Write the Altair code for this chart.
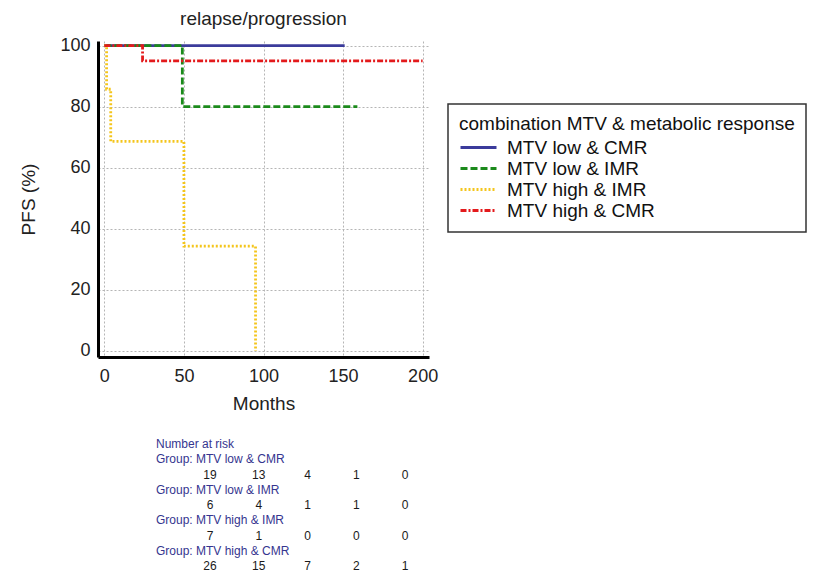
import altair as alt
import pandas as pd

# ---- data ----
groups = ["MTV low & CMR", "MTV low & IMR", "MTV high & IMR", "MTV high & CMR"]
colors = ["#3b3b9b", "#1b8a1b", "#f4c51c", "#e31a1c"]
dashes = [[1, 0], [7, 3], [2, 2], [6, 2, 2, 2]]

t_low_cmr = [0, 151]
s_low_cmr = [100, 100]
t_low_imr = [0, 49, 159]
s_low_imr = [100, 80, 80]
t_high_imr = [0, 1.4, 4, 50, 95]
s_high_imr = [100, 85.7, 68.6, 34.3, 0]
t_high_cmr = [0, 24, 200]
s_high_cmr = [100, 95, 95]

risk_times = [0, 50, 100, 150, 200]
risk_low_cmr = [19, 13, 4, 1, 0]
risk_low_imr = [6, 4, 1, 1, 0]
risk_high_imr = [7, 1, 0, 0, 0]
risk_high_cmr = [26, 15, 7, 2, 1]

series = [
    (groups[0], t_low_cmr, s_low_cmr),
    (groups[1], t_low_imr, s_low_imr),
    (groups[2], t_high_imr, s_high_imr),
    (groups[3], t_high_cmr, s_high_cmr),
]
rows = []
for order, (g, ts, ss) in enumerate(series):
    for t, s in zip(ts, ss):
        rows.append({"group": g, "Months": t, "PFS": s, "order": order})
km = pd.DataFrame(rows)

# risk table
risk = [risk_low_cmr, risk_low_imr, risk_high_imr, risk_high_cmr]
num_rows, lab_rows = [], [{"text": "Number at risk", "row": 0}]
for i, g in enumerate(groups):
    lab_rows.append({"text": "Group: " + g, "row": 1 + 2 * i})
    for t, n in zip(risk_times, risk[i]):
        num_rows.append({"t": t, "n": str(n), "row": 2 + 2 * i})
nums = pd.DataFrame(num_rows)
labs = pd.DataFrame(lab_rows)

FONT = "Liberation Sans"

lines = alt.Chart(km).mark_line(interpolate="step-after", strokeWidth=2.8, clip=False).encode(
    x=alt.X("Months:Q", scale=alt.Scale(domain=[-4, 204], nice=False, zero=False),
            axis=alt.Axis(values=[0, 50, 100, 150, 200], title="Months")),
    y=alt.Y("PFS:Q", scale=alt.Scale(domain=[-2, 101.5], nice=False, zero=False),
            axis=alt.Axis(values=[0, 20, 40, 60, 80, 100], title="PFS (%)")),
    color=alt.Color("group:N", scale=alt.Scale(domain=groups, range=colors),
                    legend=alt.Legend(title="combination MTV & metabolic response")),
    strokeDash=alt.StrokeDash("group:N", scale=alt.Scale(domain=groups, range=dashes), legend=alt.Legend(
        title="combination MTV & metabolic response")),
    order="order:Q",
    detail="group:N",
)

row_scale = alt.Scale(domain=[0, 8], range=[403, 525])

num_layer = alt.Chart(nums).mark_text(font=FONT, fontSize=12, color="#1a1a1a", align="center",
                                      baseline="middle").encode(
    x=alt.X("t:Q", scale=alt.Scale(domain=[0, 200], range=[112, 307]), axis=None),
    y=alt.Y("row:Q", scale=row_scale, axis=None),
    text="n:N",
)
lab_layer = alt.Chart(labs).mark_text(font=FONT, fontSize=12, color="#35358f", align="left",
                                      baseline="middle").encode(
    x=alt.value(58),
    y=alt.Y("row:Q", scale=row_scale, axis=None),
    text="text:N",
)

chart = alt.layer(lines, num_layer, lab_layer).resolve_scale(
    x="independent", y="independent"
).properties(
    width=331, height=316,
    title=alt.Title("relapse/progression", fontSize=19, font=FONT, fontWeight="normal",
                    color="#222222", anchor="middle", offset=8),
    autosize=alt.AutoSizeParams(type="none"),
    padding={"left": 98, "top": 41, "right": 410, "bottom": 216},
).configure_view(stroke=None).configure_axis(
    labelFont=FONT, titleFont=FONT, labelFontSize=18, titleFontSize=19,
    labelColor="#222222", titleColor="#222222", titleFontWeight="normal",
    domainColor="#000000", domainWidth=3, ticks=False,
    gridColor="#b5b5b5", gridDash=[2, 2], gridWidth=1, gridOpacity=1,
).configure_axisX(labelPadding=10, titlePadding=9).configure_axisY(
    labelPadding=8, titlePadding=21
).configure_legend(
    orient="none", legendX=350, legendY=63, strokeColor="#333333", strokeWidth=1.5,
    padding=11, titleFont=FONT, labelFont=FONT, titleFontSize=19, labelFontSize=19,
    titleFontWeight="normal", titleColor="#111111", labelColor="#111111",
    symbolType="M-1,0L3,0", symbolSize=324, symbolStrokeWidth=3, rowPadding=0,
    titlePadding=3, fillColor="white", labelOffset=27, titleLimit=500, labelLimit=400,
)

chart.save("out.html", embed_options={"renderer": "svg", "actions": False})
